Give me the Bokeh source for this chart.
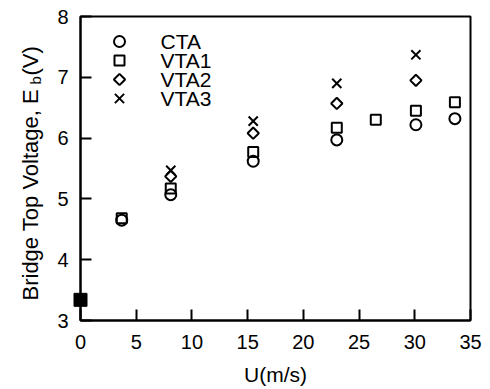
import math
from bokeh.plotting import figure
from bokeh.models import Label
from bokeh.layouts import row
from bokeh.embed import file_html
from bokeh.resources import INLINE

# Flow velocity U (m/s) and bridge top voltage Eb (V) for each anemometer mode
cta_u = [3.7, 8.1, 15.5, 23.0, 30.1, 33.6]
cta_eb = [4.65, 5.07, 5.62, 5.97, 6.22, 6.32]

vta1_u = [3.7, 8.1, 15.5, 23.0, 26.5, 30.1, 33.6]
vta1_eb = [4.68, 5.17, 5.77, 6.17, 6.30, 6.45, 6.59]

vta2_u = [8.1, 15.5, 23.0, 30.1]
vta2_eb = [5.37, 6.08, 6.57, 6.95]

vta3_u = [8.1, 15.5, 23.0, 30.1]
vta3_eb = [5.47, 6.28, 6.90, 7.37]

# Still-air reading shared by all modes
zero_u = [0.0]
zero_eb = [3.34]

x_ticks = [0, 5, 10, 15, 20, 25, 30, 35]
y_ticks = [3, 4, 5, 6, 7, 8]

series_names = ["CTA", "VTA1", "VTA2", "VTA3"]

FONT = "Liberation Sans"
X_LO, X_HI = 0, 35
Y_LO, Y_HI = 3, 8
FRAME_W, FRAME_H = 390, 304
TITLE_W = 45

# ---- narrow strip carrying the rotated y-axis title ----
t = figure(width=TITLE_W, height=389, x_range=(0, TITLE_W), y_range=(389, 0),
           output_backend="svg", toolbar_location=None,
           x_axis_type=None, y_axis_type=None,
           min_border=0, min_border_left=0, min_border_right=0,
           min_border_top=0, min_border_bottom=0)
t.grid.visible = False
t.outline_line_color = None
t.background_fill_color = "white"
t.border_fill_color = "white"
ylab_kw = dict(x_units="canvas", y_units="canvas", angle=math.pi / 2,
               text_font=FONT, text_color="black", text_baseline="alphabetic",
               text_align="left")
t.add_layout(Label(x=30, y=300, text="Bridge Top Voltage, E",
                   text_font_size="22px", **ylab_kw))
t.add_layout(Label(x=35, y=84, text="b", text_font_size="15px", **ylab_kw))
t.add_layout(Label(x=30, y=75, text="(V)", text_font_size="22px", **ylab_kw))

# ---- main scatter plot ----
p = figure(width=490 - TITLE_W, height=389, x_range=(X_LO, X_HI),
           y_range=(Y_LO, Y_HI), output_backend="svg", toolbar_location=None,
           min_border_left=80 - TITLE_W, min_border_right=20,
           min_border_top=16, min_border_bottom=69)
p.grid.visible = False
p.outline_line_color = "black"
p.outline_line_width = 2
p.background_fill_color = "white"
p.border_fill_color = "white"

for ax in (p.xaxis[0], p.yaxis[0]):
    ax.axis_line_width = 2
    ax.major_tick_line_width = 2
    ax.major_tick_in = 11
    ax.major_tick_out = 0
    ax.minor_tick_line_color = None
    ax.major_label_text_font = FONT
    ax.major_label_text_font_size = "20px"
    ax.major_label_text_color = "black"
    ax.axis_label_text_font = FONT
    ax.axis_label_text_font_size = "21px"
    ax.axis_label_text_font_style = "normal"
    ax.axis_label_text_color = "black"

p.xaxis.ticker = x_ticks
p.yaxis.ticker = y_ticks
p.xaxis.major_label_standoff = 14
p.yaxis.major_label_standoff = 12
p.xaxis.axis_label = "U(m/s)"
p.xaxis.axis_label_standoff = 11

marker_styles = [
    dict(marker="circle", size=11, fill_color=None, line_color="black", line_width=2),
    dict(marker="square", size=10, fill_color=None, line_color="black", line_width=2),
    dict(marker="square", size=8, angle=math.pi / 4, fill_color=None,
         line_color="black", line_width=2),
    dict(marker="x", size=13, line_color="black", line_width=2),
]

for xs, ys, style in zip([cta_u, vta1_u, vta2_u, vta3_u],
                         [cta_eb, vta1_eb, vta2_eb, vta3_eb], marker_styles):
    p.scatter(xs, ys, **style)

p.scatter(zero_u, zero_eb, marker="square", size=13, fill_color="black",
          line_color="black", level="overlay")

# ---- key in the upper-left corner: swatch offsets are given in pixels ----
key_px_x = 39
key_px_rows = [25, 44, 63, 82]
px_per_x = FRAME_W / (X_HI - X_LO)
px_per_y = FRAME_H / (Y_HI - Y_LO)
for name, style, py in zip(series_names, marker_styles, key_px_rows):
    p.scatter([X_LO + key_px_x / px_per_x], [Y_HI - py / px_per_y], **style)
    p.add_layout(Label(x=80 - TITLE_W + 80, y=16 + py,
                       x_units="canvas", y_units="canvas", text=name,
                       text_font=FONT, text_font_size="21px",
                       text_align="left", text_baseline="alphabetic",
                       text_color="black"))

layout = row(t, p, spacing=0)
open("out.html", "w").write(file_html(layout, INLINE))
